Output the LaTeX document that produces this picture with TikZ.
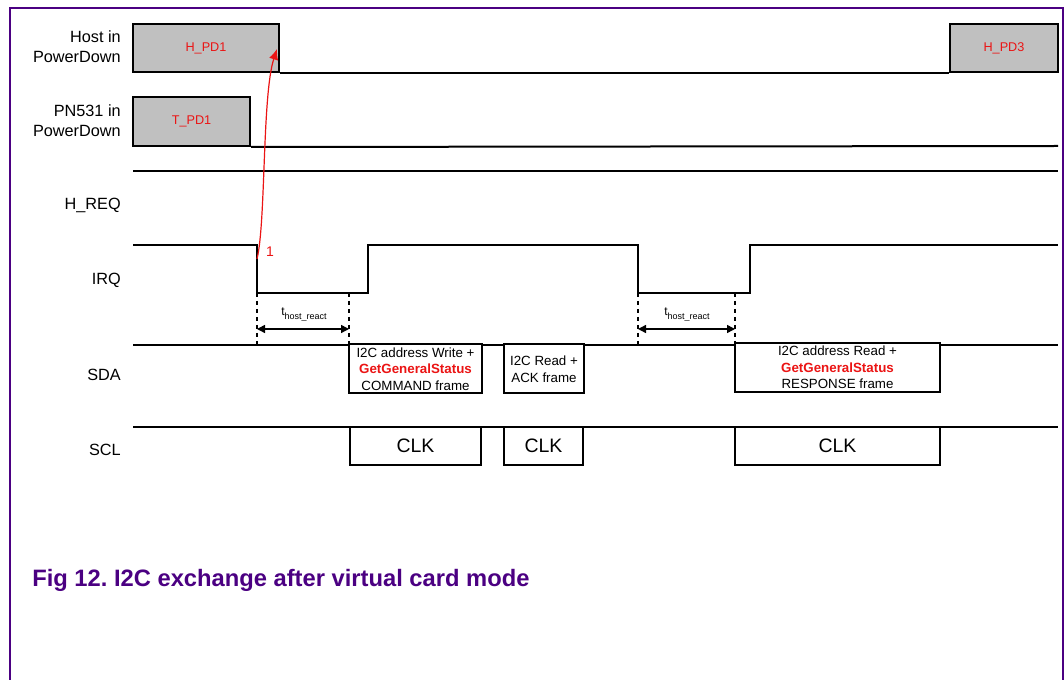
\documentclass[tikz,border=0pt]{standalone}
\usepackage{fontspec}
\setmainfont{Liberation Sans}
\usetikzlibrary{arrows.meta}
\definecolor{framepurple}{RGB}{75,0,130}
\definecolor{pdgray}{RGB}{192,192,192}
\definecolor{evred}{RGB}{235,20,20}

\begin{document}
\begin{tikzpicture}[x=0.75pt, y=-0.75pt,
  every node/.style={font=\fontsize{12.2}{15}\selectfont},
  siglabel/.style={anchor=east, align=right, inner sep=0pt},
  pdbox/.style={draw, line width=1.5pt, fill=pdgray, text=evred, inner sep=0pt,
                minimum height=36pt, font=\fontsize{9.5}{11}\selectfont},
  framebox/.style={draw, line width=1.5pt, fill=white, align=center, inner sep=0pt,
                   minimum height=36.75pt, font=\fontsize{10}{12.4}\selectfont},
  clkbox/.style={draw, line width=1.5pt, fill=white, inner sep=0pt,
                 minimum height=28.5pt, font=\fontsize{14.6}{16}\selectfont},
  wave/.style={line width=1.5pt},
  guide/.style={dashed, line width=1pt},
  span/.style={{Triangle[length=6pt,width=6pt]}-{Triangle[length=6pt,width=6pt]}, line width=1.1pt},
  tlabel/.style={font=\fontsize{9}{10}\selectfont},
  evarr/.style={-{Latex[length=8pt,width=7pt]}, evred, line width=0.9pt}
]
  \useasboundingbox (0,0) rectangle (1064,680);
  \draw[framepurple, line width=1.5pt] (10,680) -- (10,8) -- (1063,8) -- (1063,680);

  % signal names
  \node[siglabel] (lhost) at (121,47)  {Host in\\PowerDown};
  \node[siglabel] (lpn)   at (121,121) {PN531 in\\PowerDown};
  \node[siglabel] (lreq)  at (121,205) {H\_REQ};
  \node[siglabel] (lirq)  at (121,280) {IRQ};
  \node[siglabel] (lsda)  at (121,375) {SDA};
  \node[siglabel] (lscl)  at (121,450) {SCL};

  % power down phases
  \node[pdbox, minimum width=109.5pt] (hpd1) at (206,48)    {H\_PD1};
  \node[pdbox, minimum width=81pt]    (hpd3) at (1004,48)   {H\_PD3};
  \node[pdbox, minimum width=87.75pt, minimum height=36.75pt] (tpd1) at (191.5,121.5) {T\_PD1};
  \draw[wave] (hpd1.south east) -- (hpd3.south west);
  \draw[wave] (tpd1.south east) -- (1058,146);

  % H_REQ and IRQ
  \draw[wave] (133,171) -- (1058,171);
  \draw[wave] (133,245) -- (257,245) -- (257,293) -- (368,293) -- (368,245)
              -- (638,245) -- (638,293) -- (750,293) -- (750,245) -- (1058,245);

  % bus lines
  \draw[wave] (133,345) -- (1058,345);
  \draw[wave] (133,427) -- (1058,427);

  % host reaction times
  \draw[guide] (257,293) -- (257,345);
  \draw[guide] (349,293) -- (349,345);
  \draw[guide] (638,293) -- (638,345);
  \draw[guide] (735,293) -- (735,345);
  \coordinate (r1a) at (257,329);
  \coordinate (r1b) at (349,329);
  \coordinate (r2a) at (638,329);
  \coordinate (r2b) at (735,329);
  \draw[span] (r1a) -- (r1b);
  \draw[span] (r2a) -- (r2b);
  \node[tlabel] (treact1) at (304,315) {t\raisebox{-3pt}{\fontsize{6.75}{7}\selectfont host\_react}};
  \node[tlabel] (treact2) at (687,315) {t\raisebox{-3pt}{\fontsize{6.75}{7}\selectfont host\_react}};

  % SDA frames
  \node[framebox, minimum width=99.75pt] (cmd) at (415.5,369) {I2C address Write +\\
    \textcolor{evred}{\textbf{GetGeneralStatus}}\\COMMAND frame};
  \node[framebox, minimum width=60pt] (ack) at (544,369) {I2C Read +\\ACK frame};
  \node[framebox, minimum width=153.75pt] (rsp) at (837.5,367.5) {I2C address Read +\\
    \textcolor{evred}{\textbf{GetGeneralStatus}}\\RESPONSE frame};

  % SCL clocks
  \node[clkbox, minimum width=98.25pt] (clk1) at (415.5,446) {CLK};
  \node[clkbox, minimum width=59.25pt] (clk2) at (543.5,446) {CLK};
  \node[clkbox, minimum width=153.75pt] (clk3) at (837.5,446) {CLK};

  % wake up event
  \coordinate (irqfall) at (257,259);
  \coordinate (hpdhit) at (277,49);
  \draw[evarr] (irqfall) .. controls (266,222) and (262,95) .. (hpdhit);
  \node[text=evred, font=\fontsize{10.5}{12}\selectfont] (evone) at (270,252) {1};

  \node[anchor=base west, inner sep=0pt, text=framepurple,
        font=\fontsize{17.8}{21}\selectfont\bfseries] (caption) at (32,586)
        {Fig 12.\ I2C exchange after virtual card mode};
\end{tikzpicture}
\end{document}
